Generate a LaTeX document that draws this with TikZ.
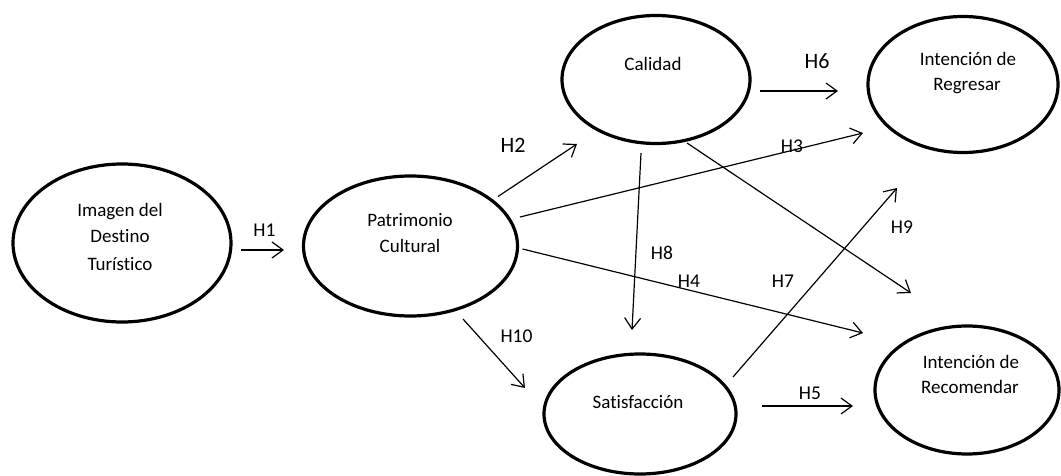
\documentclass[tikz,border=0pt]{standalone}
\usepackage{fontspec}
\setmainfont{Carlito}[Ligatures=NoCommon]
\usetikzlibrary{shapes.geometric,arrows.meta}

\tikzset{
  construct/.style={draw, ellipse, line width=3.2pt, inner sep=0pt},
  ctext/.style={anchor=base, inner sep=0pt, font=\fontsize{19}{23}\selectfont},
  hyp/.style={inner sep=0pt, font=\fontsize{19.5}{23}\selectfont},
  hypbig/.style={inner sep=0pt, font=\fontsize{22}{26}\selectfont},
  path/.style={line width=1.2pt, -{Straight Barb[length=11pt,width=16pt,line width=1.2pt]}}
}

\begin{document}
\begin{tikzpicture}[x=1pt, y=-1pt]
  % canvas
  \path[fill=white, use as bounding box] (0,0) rectangle (1061,476);

  % constructs
  \node[construct, minimum width=218pt, minimum height=158pt] (img) at (122,243) {};
  \node[construct, minimum width=214pt, minimum height=140pt] (pat) at (410.5,246) {};
  \node[construct, minimum width=188pt, minimum height=128pt] (cal) at (656,79.5) {};
  \node[construct, minimum width=190pt, minimum height=136pt] (reg) at (963,84.5) {};
  \node[construct, minimum width=192pt, minimum height=120pt] (sat) at (640,414) {};
  \node[construct, minimum width=184pt, minimum height=128pt] (rec) at (967,390) {};

  % construct names
  \node[ctext] (img1) at (120,216) {Imagen del};
  \node[ctext] (img2) at (120,243) {Destino};
  \node[ctext] (img3) at (120,270) {Turístico};
  \node[ctext] (pat1) at (410,226) {Patrimonio};
  \node[ctext] (pat2) at (410,252) {Cultural};
  \node[ctext] (cal1) at (653,71) {Calidad};
  \node[ctext] (reg1) at (968,66) {Intención de};
  \node[ctext] (reg2) at (967,91) {Regresar};
  \node[ctext] (sat1) at (638,408) {Satisfacción};
  \node[ctext] (rec1) at (971,368) {Intención de};
  \node[ctext] (rec2) at (970,393) {Recomendar};

  % arrow end points
  \coordinate (h1a) at (241,250);    \coordinate (h1b) at (284,250);
  \coordinate (h2a) at (498,196.5);  \coordinate (h2b) at (577,144);
  \coordinate (h3a) at (520,217);    \coordinate (h3b) at (863,133);
  \coordinate (h4a) at (522.5,249);  \coordinate (h4b) at (863,333);
  \coordinate (h5a) at (762,406);    \coordinate (h5b) at (853,406);
  \coordinate (h6a) at (760,91);     \coordinate (h6b) at (838,91);
  \coordinate (h7a) at (733,377);    \coordinate (h7b) at (897,188);
  \coordinate (h8a) at (641,153);    \coordinate (h8b) at (632,330);
  \coordinate (h9a) at (687,143);    \coordinate (h9b) at (911,293);
  \coordinate (h10a) at (463,319);   \coordinate (h10b) at (525,388);

  % hypothesised paths
  \draw[path] (h1a) -- (h1b);
  \draw[path] (h2a) -- (h2b);
  \draw[path] (h3a) -- (h3b);
  \draw[path] (h4a) -- (h4b);
  \draw[path] (h5a) -- (h5b);
  \draw[path] (h6a) -- (h6b);
  \draw[path] (h7a) -- (h7b);
  \draw[path] (h8a) -- (h8b);
  \draw[path] (h9a) -- (h9b);
  \draw[path] (h10a) -- (h10b);

  % hypothesis labels
  \node[hyp] (l1) at (264.5,230) {H1};
  \node[hypbig] (l2) at (513,145) {H2};
  \node[hyp] (l3) at (792,146) {H3};
  \node[hyp] (l4) at (689,281) {H4};
  \node[hyp] (l5) at (810,393) {H5};
  \node[hypbig] (l6) at (817,61) {H6};
  \node[hyp] (l7) at (783,281) {H7};
  \node[hyp] (l8) at (662,253) {H8};
  \node[hyp] (l9) at (902,227) {H9};
  \node[hyp] (l10) at (516.5,336) {H10};
\end{tikzpicture}
\end{document}
